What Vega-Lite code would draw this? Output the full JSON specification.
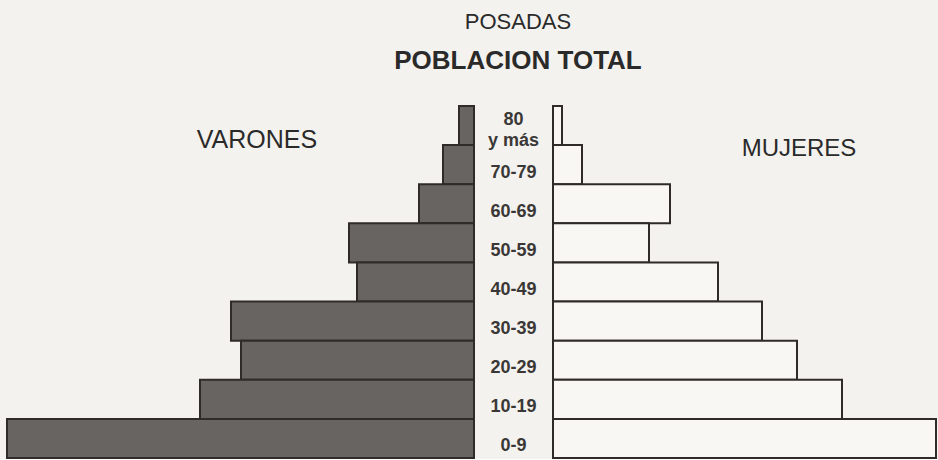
{
  "$schema": "https://vega.github.io/schema/vega-lite/v6.json",
  "background": "#f4f2ee",
  "padding": {"left": 0, "right": 0, "top": 11, "bottom": 0},
  "title": {
    "text": "POSADAS",
    "subtitle": "POBLACION TOTAL",
    "anchor": "start",
    "align": "center",
    "frame": "group",
    "dx": 518,
    "font": "Liberation Sans",
    "fontSize": 22,
    "fontWeight": "normal",
    "color": "#2a2a2a",
    "subtitleFont": "Liberation Sans",
    "subtitleFontSize": 26,
    "subtitleFontWeight": "bold",
    "subtitleColor": "#2a2a2a",
    "subtitlePadding": 14,
    "offset": 30
  },
  "data": {
    "values": [
      {"edad": "80 y más", "etiqueta": "80|y más", "varones": 15, "mujeres": 9},
      {"edad": "70-79", "etiqueta": "70-79", "varones": 31, "mujeres": 29},
      {"edad": "60-69", "etiqueta": "60-69", "varones": 55, "mujeres": 117},
      {"edad": "50-59", "etiqueta": "50-59", "varones": 125, "mujeres": 96},
      {"edad": "40-49", "etiqueta": "40-49", "varones": 117, "mujeres": 165},
      {"edad": "30-39", "etiqueta": "30-39", "varones": 243, "mujeres": 209},
      {"edad": "20-29", "etiqueta": "20-29", "varones": 233, "mujeres": 244},
      {"edad": "10-19", "etiqueta": "10-19", "varones": 274, "mujeres": 289},
      {"edad": "0-9", "etiqueta": "0-9", "varones": 467, "mujeres": 383}
    ]
  },
  "spacing": 0,
  "hconcat": [
    {
      "width": 474,
      "height": 352,
      "layer": [
        {
          "mark": {"type": "bar", "fill": "#676462", "stroke": "#2e2b29", "strokeWidth": 2},
          "encoding": {
            "y": {"field": "edad", "type": "nominal", "axis": null,
                  "sort": ["80 y más", "70-79", "60-69", "50-59", "40-49", "30-39", "20-29", "10-19", "0-9"],
                  "scale": {"paddingInner": 0, "paddingOuter": 0}},
            "x": {"field": "varones", "type": "quantitative", "axis": null,
                  "scale": {"domain": [0, 474], "reverse": true, "nice": false, "zero": true}}
          }
        },
        {
          "data": {"values": [{"t": "VARONES", "pos": 217, "edad": "80 y más"}]},
          "mark": {"type": "text", "font": "Liberation Sans", "fontSize": 25, "color": "#2a2a2a", "align": "center", "baseline": "middle", "dy": 14},
          "encoding": {
            "y": {"field": "edad", "type": "nominal", "axis": null,
                  "sort": ["80 y más", "70-79", "60-69", "50-59", "40-49", "30-39", "20-29", "10-19", "0-9"]},
            "x": {"field": "pos", "type": "quantitative", "axis": null},
            "text": {"field": "t"}
          }
        }
      ]
    },
    {
      "width": 77,
      "height": 352,
      "layer": [
        {
          "transform": [{"filter": "datum.edad !== '80 y más'"}],
          "mark": {"type": "text", "font": "Liberation Sans", "fontSize": 18, "fontWeight": "bold", "color": "#3a3836", "align": "center", "baseline": "middle", "dy": 8},
          "encoding": {
            "y": {"field": "edad", "type": "nominal", "axis": null,
                  "sort": ["80 y más", "70-79", "60-69", "50-59", "40-49", "30-39", "20-29", "10-19", "0-9"],
                  "scale": {"paddingInner": 0, "paddingOuter": 0}},
            "text": {"field": "etiqueta"}
          }
        },
        {
          "transform": [{"filter": "datum.edad === '80 y más'"}],
          "mark": {"type": "text", "font": "Liberation Sans", "fontSize": 18, "fontWeight": "bold", "color": "#3a3836", "align": "center", "baseline": "middle", "dy": -6, "lineBreak": "|", "lineHeight": 21},
          "encoding": {
            "y": {"field": "edad", "type": "nominal", "axis": null,
                  "sort": ["80 y más", "70-79", "60-69", "50-59", "40-49", "30-39", "20-29", "10-19", "0-9"]},
            "text": {"field": "etiqueta"}
          }
        }
      ]
    },
    {
      "width": 385,
      "height": 352,
      "layer": [
        {
          "mark": {"type": "bar", "fill": "#f8f7f4", "stroke": "#2e2b29", "strokeWidth": 2},
          "encoding": {
            "y": {"field": "edad", "type": "nominal", "axis": null,
                  "sort": ["80 y más", "70-79", "60-69", "50-59", "40-49", "30-39", "20-29", "10-19", "0-9"],
                  "scale": {"paddingInner": 0, "paddingOuter": 0}},
            "x": {"field": "mujeres", "type": "quantitative", "axis": null,
                  "scale": {"domain": [0, 385], "nice": false, "zero": true}}
          }
        },
        {
          "data": {"values": [{"t": "MUJERES", "pos": 246, "edad": "80 y más"}]},
          "mark": {"type": "text", "font": "Liberation Sans", "fontSize": 24, "color": "#2a2a2a", "align": "center", "baseline": "middle", "dy": 23},
          "encoding": {
            "y": {"field": "edad", "type": "nominal", "axis": null,
                  "sort": ["80 y más", "70-79", "60-69", "50-59", "40-49", "30-39", "20-29", "10-19", "0-9"]},
            "x": {"field": "pos", "type": "quantitative", "axis": null},
            "text": {"field": "t"}
          }
        }
      ]
    }
  ],
  "config": {"view": {"stroke": null}}
}
